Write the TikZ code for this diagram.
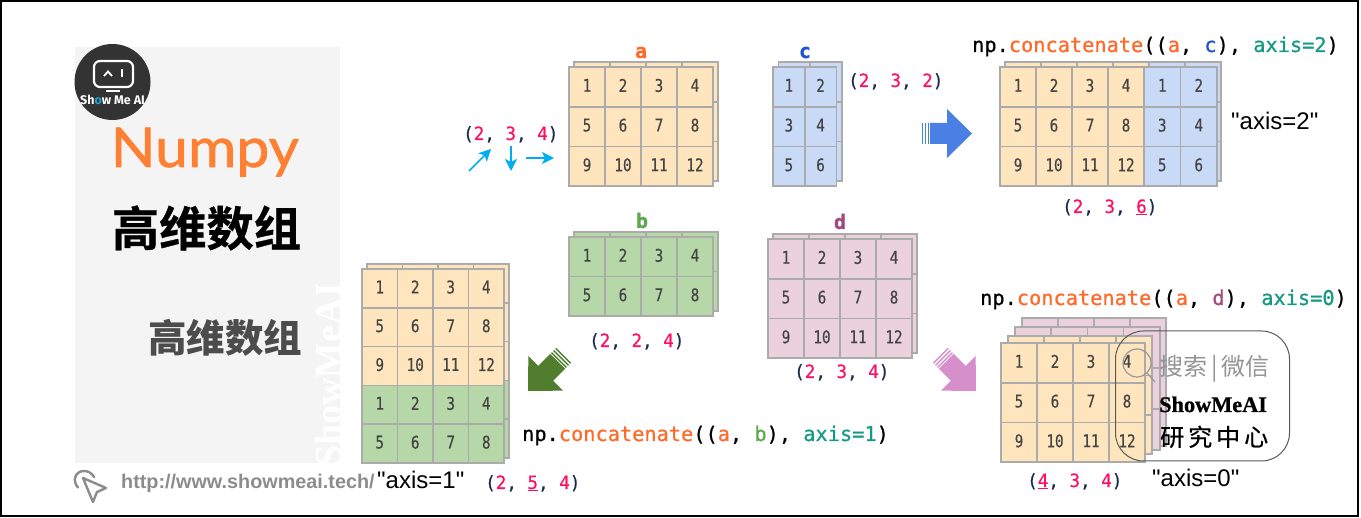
\documentclass[tikz,border=0pt]{standalone}
\usepackage{fontspec}
\usetikzlibrary{arrows.meta}
\setmainfont{Liberation Sans}
\newfontfamily\axisf{Liberation Sans}
\newfontfamily\cjkf{Noto Sans CJK SC}
\newfontfamily\cjkm[FakeBold=0.5]{Noto Sans CJK SC}
\newfontfamily\cjkh[FakeBold=0.7]{Noto Sans CJK SC Bold}
\newfontfamily\cellf[FakeStretch=0.82,FakeBold=0.35]{DejaVu Sans Mono}
\newfontfamily\codef[FakeBold=0.7]{DejaVu Sans Mono}
\newfontfamily\shapef[FakeStretch=0.96,FakeBold=0.45]{DejaVu Sans Mono}
\newfontfamily\titlef[FakeBold=1.2,FakeStretch=1.07]{Lato}
\newfontfamily\logof{Fira Sans}
\newfontfamily\markf{Liberation Serif}
\newfontfamily\brandf[FakeBold=0.9]{Liberation Serif Bold}
\definecolor{framec}{HTML}{000000}
\definecolor{panelc}{HTML}{F4F4F4}
\definecolor{gridc}{HTML}{ABABAB}
\definecolor{digitc}{HTML}{444444}
\definecolor{orangec}{HTML}{FFE5BE}
\definecolor{bluec}{HTML}{C9DAF6}
\definecolor{greenc}{HTML}{B6D7A8}
\definecolor{pinkc}{HTML}{EAD1DC}
\definecolor{orangetx}{HTML}{FF6A2B}
\definecolor{numpyc}{HTML}{FF8033}
\definecolor{bluetx}{HTML}{2255CC}
\definecolor{greentx}{HTML}{5DA84E}
\definecolor{plumtx}{HTML}{A04A80}
\definecolor{tealtx}{HTML}{159A82}
\definecolor{pinktx}{HTML}{FF0F64}
\definecolor{navytx}{HTML}{1A2A50}
\definecolor{cyanc}{HTML}{00AEEF}
\definecolor{bluearrow}{HTML}{4A7FE3}
\definecolor{greenarrow}{HTML}{507D2E}
\definecolor{pinkarrow}{HTML}{D68FCB}
\definecolor{urlc}{HTML}{8C8C8C}
\definecolor{logoc}{HTML}{333333}
\newcommand{\fs}[1]{\fontsize{#1}{#1}\selectfont}
% name, x, y, cols, rows, cell width, cell height, fill, show numbers
\newcommand{\sheet}[9]{%
  \foreach \r in {1,...,#5}{\foreach \c in {1,...,#4}{%
    \pgfmathtruncatemacro{\n}{(\r-1)*#4+\c}%
    \ifnum#9=1
      \node[cellbox,fill=#8,minimum width=#6pt,minimum height=#7pt] (#1-\r-\c)
        at ({#2+(\c-.5)*#6},{#3+(\r-.5)*#7}) {\raisebox{3pt}{\n}};
    \else
      \node[cellbox,fill=#8,minimum width=#6pt,minimum height=#7pt] (#1-\r-\c)
        at ({#2+(\c-.5)*#6},{#3+(\r-.5)*#7}) {};
    \fi
  }}}
\newcommand{\shp}[3]{{\color{navytx}(}{\color{pinktx}#1}{\color{navytx}, }{\color{pinktx}#2}{\color{navytx}, }{\color{pinktx}#3}{\color{navytx})}}
\newcommand{\conc}[2]{np.{\color{orangetx}concatenate}(({\color{orangetx}a}, #1), {\color{tealtx}axis=#2})}
% tip x, tip y, rotation, colour
\newcommand{\blockarrow}[4]{%
  \begin{scope}[shift={(#1,#2)},rotate=#3]
    \fill[#4] (0,0) -- (-25,-24.5) -- (-25,-10.5) -- (-42,-10.5) -- (-42,10.5) -- (-25,10.5) -- (-25,24.5) -- cycle;
    \fill[#4] (-44.5,-10.5) rectangle (-43,10.5);
    \fill[#4] (-47.5,-10.5) rectangle (-46,10.5);
    \fill[#4] (-50.5,-10.5) rectangle (-49,10.5);
  \end{scope}}
\tikzset{
  cellbox/.style={draw=gridc,line width=1.7pt,inner sep=0pt,text=digitc,font=\cellf\fs{17.5}},
  shapelbl/.style={anchor=base west,inner sep=0pt,font=\shapef\fs{18.3}},
  codelbl/.style={anchor=base west,inner sep=0pt,font=\codef\fs{20.3},text=black},
  axislbl/.style={anchor=base west,inner sep=0pt,font=\axisf\fs{24},text=black},
  namelbl/.style={anchor=base,inner sep=0pt,font=\codef\bfseries\fs{20}},
  axisarrow/.style={-{Stealth[length=12pt,width=12pt,inset=3pt]},cyanc,line width=1.5pt},
}
\begin{document}
\begin{tikzpicture}[x=1pt,y=-1pt]
\useasboundingbox (0,0) rectangle (1361,518);
% frame
\draw[framec,line width=2pt] (1,1) -- (1358,1) -- (1358,516.5) -- (1,516.5) -- cycle;
% left panel
\fill[panelc] (75,47) rectangle (340,463);
\node[inner sep=0pt,rotate=90,text=white,font=\markf\bfseries\fs{38}] (mark) at (328,375) {ShowMeAI};
% logo
\fill[logoc] (112.5,82) circle (38);
\draw[white,line width=2.2pt,rounded corners=6pt] (94,61) rectangle (133,87);
\draw[white,line width=1.8pt] (104,76) -- (108,71.5) -- (112,76);
\draw[white,line width=2pt] (122,69.5) -- (122,77);
\draw[white,line width=2pt] (106,91) -- (120,91);
\node[inner sep=0pt,text=white,font=\logof\bfseries\fs{12.5}] (logotext) at (112.5,100) {Sh{\color{cyan!70!teal}o}w Me AI};
% titles
\node[anchor=base west,inner sep=0pt,text=numpyc,font=\titlef\fs{55}] (numpy) at (110.5,167) {Numpy};
\node[inner sep=0pt,font=\cjkh\fs{47.3}] (title1) at (206.5,228) {高维数组};
\node[inner sep=0pt,text=black!70,font=\cjkf\bfseries\fs{38.5}] (title2) at (225,338) {高维数组};
% array a
\sheet{ab}{574}{62}{4}{3}{36}{39.7}{orangec}{0}
\sheet{a}{569}{67}{4}{3}{36}{39.7}{orangec}{1}
\node[namelbl,text=orangetx] (na) at (641,58) {a};
% array c
\sheet{cb}{778.5}{62}{2}{3}{31.7}{39.7}{bluec}{0}
\sheet{c}{773}{67}{2}{3}{31.7}{39.7}{bluec}{1}
\node[namelbl,text=bluetx] (nc) at (805,58) {c};
\node[shapelbl] (sc) at (848,87) {\shp{2}{3}{2}};
% axes hint
\node[shapelbl] (sa) at (463,140) {\shp{2}{3}{4}};
\coordinate (p1) at (469,171); \coordinate (q1) at (491,149);
\coordinate (p2) at (511,146); \coordinate (q2) at (511,171);
\coordinate (p3) at (526,158); \coordinate (q3) at (554,158);
\draw[axisarrow] (p1) -- (q1);
\draw[axisarrow] (p2) -- (q2);
\draw[axisarrow] (p3) -- (q3);
% a + c, axis 2
\sheet{acb}{1005}{62}{4}{3}{36}{39.7}{orangec}{0}
\sheet{acc}{1149}{62}{2}{3}{36}{39.7}{bluec}{0}
\sheet{aca}{1000}{67}{4}{3}{36}{39.7}{orangec}{1}
\sheet{acd}{1144}{67}{2}{3}{36.5}{39.7}{bluec}{1}
\node[codelbl] (c1) at (972,52) {\conc{{\color{bluetx}c}}{2}};
\node[axislbl] (ax2) at (1231,130) {"axis=2"};
\node[shapelbl] (s2) at (1062,213) {\shp{2}{3}{\underline{6}}};
\blockarrow{972}{133.5}{0}{bluearrow}
% array b
\sheet{bb}{574}{232}{4}{2}{36}{39.5}{greenc}{0}
\sheet{b}{569}{237}{4}{2}{36}{39.5}{greenc}{1}
\node[namelbl,text=greentx] (nb) at (642,228) {b};
\node[shapelbl] (sb) at (589,347) {\shp{2}{2}{4}};
% array d
\sheet{db}{773}{234}{4}{3}{36}{39.7}{pinkc}{0}
\sheet{d}{768}{239}{4}{3}{36}{39.7}{pinkc}{1}
\node[namelbl,text=plumtx] (nd) at (840,229) {d};
\node[shapelbl] (sd) at (794,378) {\shp{2}{3}{4}};
% a + b, axis 1
\sheet{abo}{367}{264}{4}{3}{35.5}{38.8}{orangec}{0}
\sheet{abg}{367}{380.4}{4}{2}{35.5}{38.8}{greenc}{0}
\sheet{abf}{362}{269}{4}{3}{35.5}{38.8}{orangec}{1}
\sheet{abh}{362}{385.4}{4}{2}{35.5}{38.8}{greenc}{1}
\node[codelbl] (c2) at (522,441) {\conc{{\color{greentx}b}}{1}};
\blockarrow{528}{391}{225}{greenarrow}
% a + d, axis 0
\sheet{ad4}{1022}{318}{4}{3}{36}{42.7}{pinkc}{0}
\sheet{ad3}{1015}{327}{4}{3}{36.2}{41}{pinkc}{0}
\sheet{ad2}{1008}{336}{4}{3}{36}{39.4}{orangec}{0}
\sheet{ad1}{1001}{343}{4}{3}{36}{39.7}{orangec}{1}
\node[codelbl] (c3) at (980,305) {\conc{{\color{plumtx}d}}{0}};
\blockarrow{976}{391}{-45}{pinkarrow}
\node[shapelbl] (s0) at (1027,487) {\shp{\underline{4}}{3}{4}};
\node[axislbl] (ax0) at (1152,487) {"axis=0"};
% a + b labels
\node[axislbl] (ax1) at (377,488.5) {"axis=1"};
\node[shapelbl] (s1) at (485,489) {\shp{2}{\underline{5}}{4}};
% url
\draw[urlc,line width=2.4pt,line cap=round,line join=round] (83,478) -- (106,488) -- (97,492) -- (93,502) -- cycle;
\draw[urlc,line width=2.4pt,line cap=round] (78,487.5) .. controls (72,481) and (75,471) .. (84,471) .. controls (88,471) and (92,473) .. (94,477);
\node[anchor=base west,inner sep=0pt,text=urlc,font=\axisf\bfseries\fs{19.8}] (url) at (121,489) {http://www.showmeai.tech/};
% search stamp
\draw[black!65,line width=1pt,rounded corners=28pt] (1115.5,331) rectangle (1289.5,461);
\draw[black!40,line width=1.2pt] (1137,363) circle (14);
\draw[black!40,line width=1.2pt] (1147,373) -- (1155,382);
\node[anchor=base west,inner sep=0pt,text=black!42,font=\cjkf\fs{24}] (search) at (1159,376) {搜索\hspace{4pt}|\hspace{4pt}微信};
\node[anchor=base west,inner sep=0pt,text=black,font=\brandf\fs{22.3}] (brand) at (1159,412) {ShowMeAI};
\node[anchor=base west,inner sep=0pt,text=black,font=\cjkm\fs{24}] (lab) at (1160,446) {研\hspace{4pt}究\hspace{4pt}中\hspace{4pt}心};
\end{tikzpicture}
\end{document}
